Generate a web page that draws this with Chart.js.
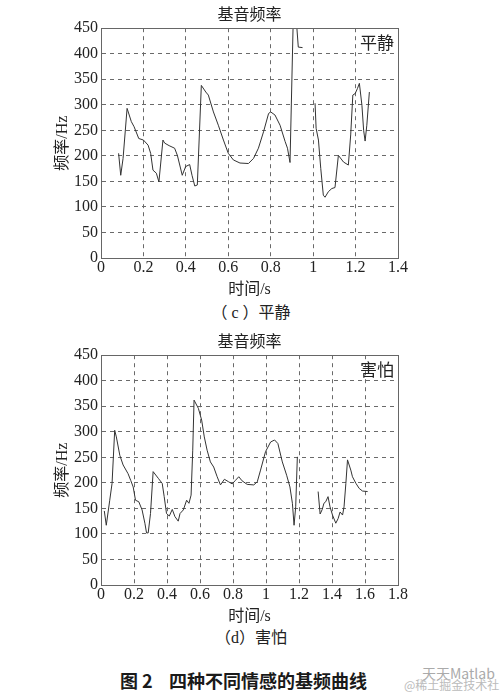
<!DOCTYPE html>
<html>
<head>
<meta charset="utf-8">
<title>基音频率</title>
<script src="https://cdn.jsdelivr.net/npm/chart.js@4.4.0/dist/chart.umd.min.js"></script>
<style>
  html, body { margin: 0; padding: 0; background: #fff; }
  #page {
    position: relative; width: 502px; height: 692px; overflow: hidden;
    font-family: 'Liberation Serif', 'Noto Sans CJK SC', serif; color: #222;
  }
  .panel { position: absolute; left: 0; width: 502px; height: 300px; }
  .caption { position: absolute; left: 0; width: 502px; text-align: center; font-size: 16px; line-height: 20px; }
  #fig-caption {
    position: absolute; left: 120px; top: 668px; font-size: 18px; line-height: 24px;
    font-family: 'Noto Sans CJK SC', sans-serif; font-weight: bold; color: #1a1a1a; white-space: pre;
  }
  #wm1 { position: absolute; left: 422px; top: 663px; font-size: 14px; color: #aaa; font-family: 'Noto Sans CJK SC', sans-serif; }
  #wm2 { position: absolute; left: 404px; top: 676px; font-size: 12px; color: #bbb; font-family: 'Noto Sans CJK SC', sans-serif; }
</style>
</head>
<body>
<div id="page">
  <div class="panel" style="top:0px"><canvas id="chartCalm"></canvas></div>
  <div class="caption" style="top:303px">（ c ）平静</div>
  <div class="panel" style="top:327px"><canvas id="chartFear"></canvas></div>
  <div class="caption" style="top:628px">（d）害怕</div>
  <div id="fig-caption">图 2    四种不同情感的基频曲线</div>
  <div id="wm1">天天Matlab</div>
  <div id="wm2">@稀土掘金技术社区</div>
</div>
<script>
// --- Data ---
// (c) calm: time in s, pitch in Hz (null = unvoiced gap)
const timeCalm = [0.083, 0.093, 0.104, 0.123, 0.143, 0.156, 0.178, 0.2, 0.222, 0.234, 0.245, 0.261, 0.273,
    0.292, 0.3, 0.321, 0.347, 0.36, 0.383, 0.399, 0.418, 0.429, 0.442, 0.454, 0.473, 0.494, 0.506, 0.53,
    0.553, 0.577, 0.6, 0.624, 0.655, 0.695, 0.719, 0.742, 0.766, 0.79, 0.8, 0.82, 0.844, 0.868, 0.879,
    0.891, 0.908, 0.918, 0.93, 0.95, 0.97,
    1.009, 1.014, 1.025, 1.036, 1.048, 1.056, 1.072, 1.088, 1.103, 1.119, 1.143, 1.166, 1.177, 1.187,
    1.198, 1.209, 1.218, 1.23, 1.238, 1.245, 1.253, 1.265];
const freqCalm = [205, 162, 195, 293, 267, 257, 234, 231, 221, 205, 172, 166, 149,
    231, 225, 220, 215, 201, 162, 179, 183, 162, 141, 143, 338, 325, 319, 286,
    260, 231, 205, 192, 186, 185, 195, 215, 247, 283, 286, 280, 260, 228, 215,
    187, 500, 480, 413, 412, null,
    303, 254, 231, 175, 123, 119, 130, 136, 138, 201, 188, 182, 241, 319,
    322, 332, 342, 299, 250, 229, 260, 325];

// (d) fear
const timeFear = [0.02, 0.032, 0.053, 0.067, 0.083, 0.093, 0.114, 0.134, 0.164, 0.18, 0.195, 0.209, 0.229,
    0.249, 0.266, 0.276, 0.286, 0.3, 0.316, 0.347, 0.371, 0.383, 0.397, 0.414, 0.432, 0.448, 0.468,
    0.479, 0.499, 0.519, 0.533, 0.546, 0.556, 0.564, 0.59, 0.61, 0.626, 0.643, 0.663, 0.683, 0.704,
    0.724, 0.748, 0.774, 0.795, 0.815, 0.835, 0.855, 0.886, 0.926, 0.947, 0.967, 0.997, 1.028, 1.052,
    1.072, 1.099, 1.125, 1.145, 1.16, 1.17, 1.18, 1.19, 1.25,
    1.316, 1.328, 1.341, 1.351, 1.362, 1.376, 1.388, 1.403, 1.423, 1.437, 1.449, 1.464, 1.473, 1.484,
    1.494, 1.514, 1.524, 1.545, 1.565, 1.585, 1.616];
const freqFear = [145, 117, 166, 199, 303, 290, 254, 235, 218, 205, 192, 166, 163,
    147, 121, 102, 102, 140, 222, 209, 199, 173, 140, 135, 148, 134, 125,
    140, 147, 166, 160, 176, 264, 362, 346, 323, 290, 264, 241, 231, 212,
    196, 207, 202, 198, 205, 212, 204, 197, 196, 202, 225, 261, 280, 284,
    277, 241, 215, 192, 160, 117, 153, 251, null,
    183, 139, 148, 160, 163, 173, 153, 137, 121, 130, 143, 137, 153, 199,
    245, 225, 212, 199, 189, 184, 183];

const yTicks = [0, 50, 100, 150, 200, 250, 300, 350, 400, 450];
const xTicksCalm = [0, 0.2, 0.4, 0.6, 0.8, 1, 1.2, 1.4];
const xTicksFear = [0, 0.2, 0.4, 0.6, 0.8, 1, 1.2, 1.4, 1.6, 1.8];

// --- Plugins ---
// solid box around the plot area (matlab style)
const framePlugin = {
    id: 'frame',
    afterDraw(chart) {
        const { ctx, chartArea: a } = chart;
        ctx.save();
        ctx.strokeStyle = '#666';
        ctx.lineWidth = 1;
        ctx.strokeRect(Math.round(a.left) + 0.5, Math.round(a.top) + 0.5, Math.round(a.width), Math.round(a.height));
        ctx.restore();
    }
};

const cornerLabel = {
    id: 'cornerLabel',
    afterDraw(chart, args, opts) {
        const { ctx, chartArea: a } = chart;
        ctx.save();
        ctx.font = '17px "Noto Sans CJK SC"';
        ctx.fillStyle = '#222';
        ctx.textAlign = 'right';
        ctx.textBaseline = 'middle';
        ctx.fillText(opts.text, a.right - 4, a.top + 14);
        ctx.restore();
    }
};

// --- Chart builder ---
const tickFont = { family: '"Liberation Serif", serif', size: 16 };
const cjkFont = { family: '"Liberation Serif", "Noto Sans CJK SC", serif', size: 16 };
const gridStyle = { color: '#6a6a6a', lineWidth: 1, drawTicks: false };
const borderStyle = { display: true, color: '#666', dash: [4, 4] }; // dash goes to the grid lines in v4

function makeChart(canvasId, times, freqs, xTicks, label) {
    const points = times.map((t, i) => ({ x: t, y: freqs[i] }));
    const xMax = xTicks[xTicks.length - 1];

    return new Chart(document.getElementById(canvasId), {
        type: 'line',
        data: {
            datasets: [{
                data: points,
                borderColor: '#333',
                borderWidth: 1,
                pointRadius: 0,
                tension: 0,
                spanGaps: false
            }]
        },
        options: {
            responsive: true,
            maintainAspectRatio: false,
            animation: false,
            layout: { padding: { left: 50, right: 104, top: 0, bottom: 0 } },
            plugins: {
                legend: { display: false },
                tooltip: { enabled: false },
                title: {
                    display: true,
                    text: '基音频率',
                    fullSize: false,
                    color: '#222',
                    font: { family: '"Noto Sans CJK SC"', size: 16, weight: 'normal' },
                    padding: { top: 4, bottom: 5 }
                },
                cornerLabel: { text: label }
            },
            scales: {
                x: {
                    type: 'linear',
                    min: 0,
                    max: xMax,
                    afterBuildTicks: scale => { scale.ticks = xTicks.map(v => ({ value: v })); },
                    afterFit: scale => { scale.height = 42; },
                    grid: gridStyle,
                    border: borderStyle,
                    ticks: { color: '#222', font: tickFont, padding: 0, maxRotation: 0, callback: v => String(v) },
                    title: { display: true, text: '时间/s', color: '#222', font: cjkFont, padding: { top: 0, bottom: 1 } }
                },
                y: {
                    min: 0,
                    max: 450,
                    afterBuildTicks: scale => { scale.ticks = yTicks.map(v => ({ value: v })); },
                    afterFit: scale => { scale.width = 51; },
                    grid: gridStyle,
                    border: borderStyle,
                    ticks: { color: '#222', font: tickFont, padding: 3, callback: v => String(v) },
                    title: { display: true, text: '频率/Hz', color: '#222', font: cjkFont, padding: { top: 3, bottom: 0 } }
                }
            }
        },
        plugins: [framePlugin, cornerLabel]
    });
}

function init() {
    makeChart('chartCalm', timeCalm, freqCalm, xTicksCalm, '平静');
    makeChart('chartFear', timeFear, freqFear, xTicksFear, '害怕');
}

document.fonts && document.fonts.load('16px "Noto Sans CJK SC"').finally(init);
</script>
</body>
</html>
